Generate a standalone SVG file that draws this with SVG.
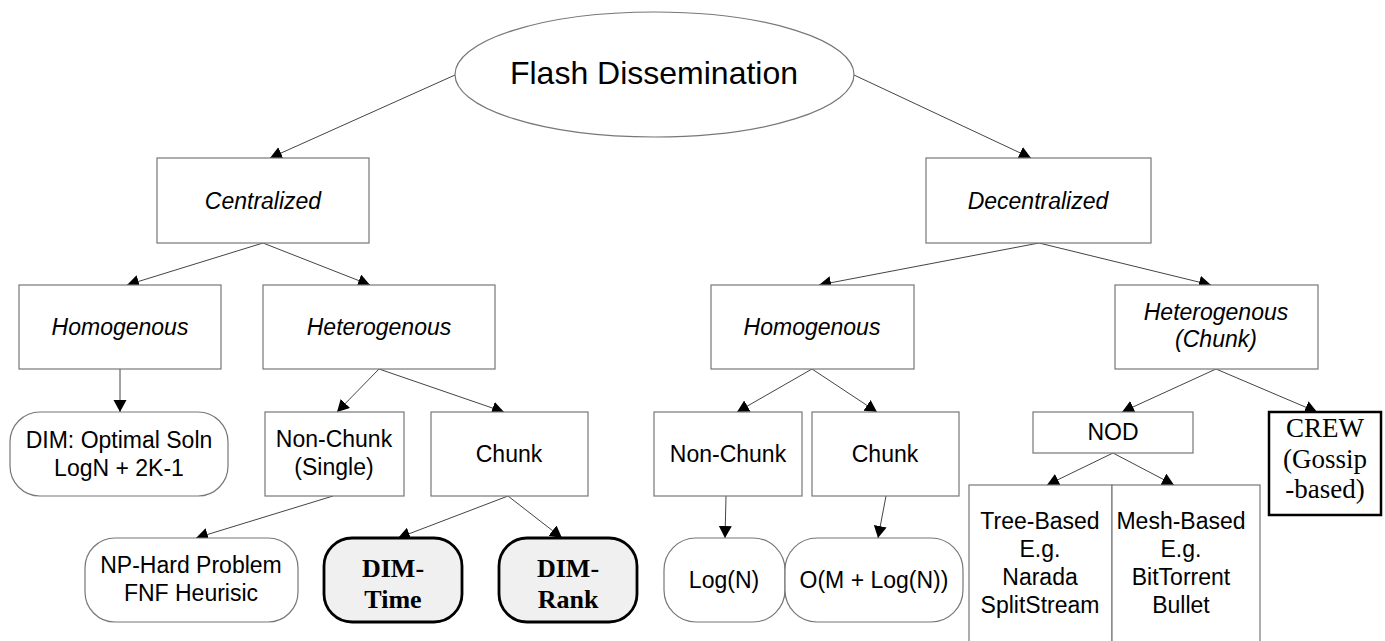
<svg xmlns="http://www.w3.org/2000/svg" width="1385" height="641" viewBox="0 0 1385 641">
<style>
.box{fill:#fff;stroke:#777;stroke-width:1.2}
.bold{fill:#f0f0f0;stroke:#000;stroke-width:2.8}
.crew{fill:#fff;stroke:#000;stroke-width:2.5}
.t{font-family:"Liberation Sans",Arial,sans-serif;font-size:23px;fill:#000;text-anchor:middle}
.i{font-style:italic}
.s{font-family:"Liberation Serif","Times New Roman",serif;fill:#000;text-anchor:middle}
.dim{font-size:26px;font-weight:bold}
.c{stroke:#444;stroke-width:1;fill:none;marker-end:url(#ah)}
</style>
<defs>
<marker id="ah" markerUnits="userSpaceOnUse" markerWidth="14" markerHeight="14" refX="12" refY="6.5" orient="auto">
<path d="M0,0 L12,6.5 L0,13 z" fill="#000"/>
</marker>
</defs>
<rect width="1385" height="641" fill="#fff"/>
<g id="connectors">
<line class="c" x1="455" y1="75" x2="270" y2="158"/>
<line class="c" x1="854" y1="75" x2="1031" y2="158"/>
<line class="c" x1="263" y1="243" x2="127" y2="285"/>
<line class="c" x1="263" y1="243" x2="370" y2="285"/>
<line class="c" x1="120" y1="369" x2="120" y2="412"/>
<line class="c" x1="379" y1="369" x2="337" y2="412"/>
<line class="c" x1="379" y1="369" x2="504" y2="412"/>
<line class="c" x1="333" y1="496" x2="196" y2="538"/>
<line class="c" x1="508" y1="496" x2="398" y2="538"/>
<line class="c" x1="508" y1="496" x2="562" y2="538"/>
<line class="c" x1="1039" y1="243" x2="819" y2="285"/>
<line class="c" x1="1039" y1="243" x2="1211" y2="285"/>
<line class="c" x1="812" y1="369" x2="737" y2="412"/>
<line class="c" x1="812" y1="369" x2="877" y2="412"/>
<line class="c" x1="726" y1="496" x2="725" y2="538"/>
<line class="c" x1="886" y1="496" x2="878" y2="538"/>
<line class="c" x1="1216" y1="369" x2="1122" y2="412"/>
<line class="c" x1="1216" y1="369" x2="1317" y2="412"/>
<line class="c" x1="1113" y1="453" x2="1047" y2="485"/>
<line class="c" x1="1113" y1="453" x2="1174" y2="485"/>
</g>
<g id="root">
<ellipse cx="654.5" cy="74.5" rx="199.5" ry="62.5" fill="#fff" stroke="#777" stroke-width="1.2"/>
<text class="t" x="654" y="84" style="font-size:32px">Flash Dissemination</text>
</g>
<g id="centralized">
<rect class="box" x="157" y="158" width="212" height="85"/>
<text class="t i" x="263" y="209">Centralized</text>
</g>
<g id="decentralized">
<rect class="box" x="926" y="158" width="225" height="85"/>
<text class="t i" x="1038" y="209">Decentralized</text>
</g>
<g id="c-homogenous">
<rect class="box" x="19" y="285" width="202" height="84"/>
<text class="t i" x="120" y="335">Homogenous</text>
</g>
<g id="c-heterogenous">
<rect class="box" x="263" y="285" width="232" height="84"/>
<text class="t i" x="379" y="335">Heterogenous</text>
</g>
<g id="d-homogenous">
<rect class="box" x="711" y="285" width="203" height="84"/>
<text class="t i" x="812" y="335">Homogenous</text>
</g>
<g id="d-heterogenous">
<rect class="box" x="1115" y="285" width="203" height="84"/>
<text class="t i" x="1216" y="320">Heterogenous</text>
<text class="t i" x="1216" y="347">(Chunk)</text>
</g>
<g id="dim-optimal">
<rect class="box" x="10" y="412" width="218" height="84" rx="30" ry="30"/>
<text class="t" x="119" y="448">DIM: Optimal Soln</text>
<text class="t" x="119" y="476">LogN + 2K-1</text>
</g>
<g id="c-nonchunk">
<rect class="box" x="265" y="412" width="139" height="84"/>
<text class="t" x="334" y="447">Non-Chunk</text>
<text class="t" x="334" y="475">(Single)</text>
</g>
<g id="c-chunk">
<rect class="box" x="431" y="412" width="157" height="84"/>
<text class="t" x="509" y="462">Chunk</text>
</g>
<g id="np-hard">
<rect class="box" x="85" y="538" width="213" height="84" rx="30" ry="30"/>
<text class="t" x="191" y="573">NP-Hard Problem</text>
<text class="t" x="191" y="601">FNF Heurisic</text>
</g>
<g id="dim-time">
<rect class="bold" x="324" y="538" width="138" height="84" rx="28" ry="28"/>
<text class="s dim" x="393" y="577">DIM-</text>
<text class="s dim" x="393" y="608">Time</text>
</g>
<g id="dim-rank">
<rect class="bold" x="499" y="538" width="138" height="84" rx="28" ry="28"/>
<text class="s dim" x="568" y="577">DIM-</text>
<text class="s dim" x="568" y="608">Rank</text>
</g>
<g id="d-nonchunk">
<rect class="box" x="654" y="412" width="148" height="84"/>
<text class="t" x="728" y="462">Non-Chunk</text>
</g>
<g id="d-chunk">
<rect class="box" x="812" y="412" width="147" height="84"/>
<text class="t" x="885" y="462">Chunk</text>
</g>
<g id="logn">
<rect class="box" x="664" y="538" width="121" height="84" rx="32" ry="32"/>
<text class="t" x="724" y="588">Log(N)</text>
</g>
<g id="om-logn">
<rect class="box" x="785" y="538" width="178" height="84" rx="32" ry="32"/>
<text class="t" x="874" y="588">O(M + Log(N))</text>
</g>
<g id="nod">
<rect class="box" x="1033" y="412" width="160" height="41"/>
<text class="t" x="1113" y="440">NOD</text>
</g>
<g id="crew">
<rect class="crew" x="1269" y="412" width="112" height="103"/>
<text class="s" x="1325" y="437" style="font-size:27px">CREW</text>
<text class="s" x="1325" y="468" style="font-size:27px">(Gossip</text>
<text class="s" x="1325" y="498" style="font-size:27px">-based)</text>
</g>
<g id="tree-based">
<rect class="box" x="969" y="485" width="143" height="170"/>
<text class="t" x="1040" y="529">Tree-Based</text>
<text class="t" x="1040" y="557">E.g.</text>
<text class="t" x="1040" y="585">Narada</text>
<text class="t" x="1040" y="613">SplitStream</text>
</g>
<g id="mesh-based">
<rect class="box" x="1112" y="485" width="148" height="170"/>
<text class="t" x="1181" y="529">Mesh-Based</text>
<text class="t" x="1181" y="557">E.g.</text>
<text class="t" x="1181" y="585">BitTorrent</text>
<text class="t" x="1181" y="613">Bullet</text>
</g>
</svg>
